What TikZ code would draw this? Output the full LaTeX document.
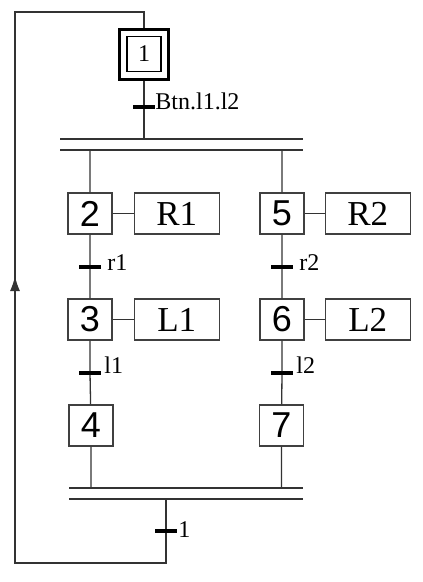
\documentclass[tikz,border=0pt]{standalone}
\usepackage{fontspec}
\setmainfont{Liberation Serif}
\newfontfamily\stepfont{Liberation Sans}
\usetikzlibrary{arrows.meta,positioning}

\tikzset{
	lien/.style={line width=1.3pt,black!80},
	etape/.style={draw=black!75,line width=1.3pt,minimum width=44pt,minimum height=41pt,inner sep=0pt,font=\stepfont\fontsize{36}{36}\selectfont},
	action/.style={draw=black!75,line width=1.3pt,minimum width=85pt,minimum height=41pt,inner sep=0pt,font=\fontsize{35}{35}\selectfont},
	trans/.style={fill=black,minimum width=22pt,minimum height=3.2pt,inner sep=0pt},
	cond/.style={inner sep=2pt,font=\fontsize{24}{24}\selectfont}
}

\begin{document}
\begin{tikzpicture}[x=1pt,y=-1pt]
	\useasboundingbox (0,0) rectangle (423,582);
	% initial step
	\node[draw,line width=3pt,minimum width=49pt,minimum height=50pt] (E1) at (144,54) {};
	\node[draw,line width=1.4pt,minimum width=34pt,minimum height=35pt,inner sep=0pt,font=\fontsize{24}{24}\selectfont] (N1) at (E1) {1};
	\node[trans,label={[cond,xshift=-2pt,yshift=6pt]right:Btn.l1.l2}] (T1) at (144,107) {};
	% double bars
	\coordinate (Da) at (60,139);
	\coordinate (Db) at (303,139);
	\coordinate (Dc) at (60,150);
	\coordinate (Dd) at (303,150);
	\coordinate (Fa) at (69,488);
	\coordinate (Fb) at (303,488);
	\coordinate (Fc) at (69,499);
	\coordinate (Fd) at (303,499);
	\draw[lien] (Da)--(Db);
	\draw[lien] (Dc)--(Dd);
	\draw[lien] (Fa)--(Fb);
	\draw[lien] (Fc)--(Fd);
	% left sequence
	\node[etape] (E2) at (90,213.5) {2};
	\node[etape] (E3) at (90,319.5) {3};
	\node[etape] (E4) at (91,425.5) {4};
	\node[action,right=21pt of E2] (R1) {R1};
	\node[action,right=21pt of E3] (L1) {L1};
	\node[trans,label={[cond,xshift=4pt,yshift=4pt]right:r1}] (T2) at (90,267) {};
	\node[trans,label={[cond,xshift=1pt,yshift=8pt]right:l1}] (T3) at (90,373) {};
	% right sequence
	\node[etape] (E5) at (282,213.5) {5};
	\node[etape] (E6) at (282,319.5) {6};
	\node[etape] (E7) at (281.5,425.5) {7};
	\node[action,right=20pt of E5] (R2) {R2};
	\node[action,right=20pt of E6] (L2) {L2};
	\node[trans,label={[cond,xshift=4pt,yshift=4pt]right:r2}] (T5) at (282,267) {};
	\node[trans,label={[cond,xshift=1pt,yshift=8pt]right:l2}] (T6) at (282,373) {};
	% final transition
	\node[trans,label={[cond,xshift=-1pt,yshift=1pt]right:1}] (T7) at (166,531) {};
	\coordinate (B1) at (166,563);
	\coordinate (B2) at (15,563);
	\coordinate (B3) at (15,12);
	\coordinate (B4) at (144,12);
	\coordinate (Fl) at (15,276);
	% links
	\draw[lien] (E1)--(T1)--(T1 |- Da);
	\draw[lien] (E2 |- Dc)--(E2)--(T2)--(E3)--(T3)--(E4)--(E4 |- Fa);
	\draw[lien] (E5 |- Dc)--(E5)--(T5)--(E6)--(T6)--(E7)--(E7 |- Fa);
	\draw[lien] (E2)--(R1);
	\draw[lien] (E3)--(L1);
	\draw[lien] (E5)--(R2);
	\draw[lien] (E6)--(L2);
	\draw[lien] (T7 |- Fc)--(T7)--(B1)--(B2)--(B3)--(B4)--(E1);
	\draw[lien,-{Latex[length=15pt,width=10pt]}] (B2)--(Fl);
\end{tikzpicture}
\end{document}
